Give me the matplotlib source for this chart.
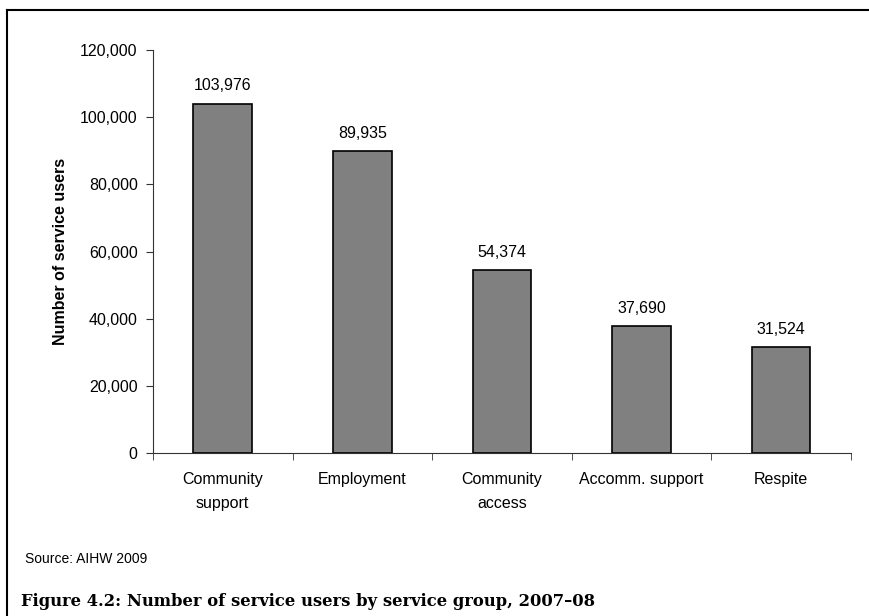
import numpy as np
import matplotlib
matplotlib.use('Agg')
import matplotlib.pyplot as plt
from matplotlib.lines import Line2D

# data
groups = ['Community\nsupport', 'Employment', 'Community\naccess',
          'Accomm. support', 'Respite']
users = [103976, 89935, 54374, 37690, 31524]
yticks = [0, 20000, 40000, 60000, 80000, 100000, 120000]

plt.rcParams['font.family'] = ['Liberation Sans', 'DejaVu Sans']
FS = 11.5

fig = plt.figure(figsize=(8.69, 6.16), dpi=100)
ax = fig.add_axes([0.176, 0.2646, 0.803, 0.6542])

x = np.arange(len(users))
ax.bar(x, users, width=0.42, color='#808080', edgecolor='black', lw=1.2)
for xi, v in zip(x, users):
    ax.annotate(f'{v:,}', (xi, v), xytext=(0, 7.5), textcoords='offset points',
                ha='center', va='bottom', fontsize=FS)

ax.set_xlim(-0.5, len(users) - 0.5)
ax.set_ylim(0, 120000)
ax.set_yticks(yticks)
ax.set_yticklabels([f'{t:,}' for t in yticks], fontsize=FS)
ax.set_xticks(x)
ax.set_xticklabels(groups, fontsize=FS, linespacing=1.75)
ax.tick_params(axis='x', length=0, pad=14)
ax.set_xticks(np.arange(len(users) + 1) - 0.5, minor=True)
ax.tick_params(axis='x', which='minor', length=5, direction='out', color='#333333')
ax.tick_params(axis='y', length=5, direction='out', color='#333333', pad=6)

for s in ['top', 'right']:
    ax.spines[s].set_visible(False)
ax.spines['left'].set_color('#333333')
ax.spines['bottom'].set_color('#333333')

ax.set_ylabel('Number of service users', fontsize=FS, fontweight='bold', labelpad=9)

# partial frame around the figure
fig.add_artist(Line2D([7 / 869, 7 / 869], [0, 1 - 10 / 616], color='black', lw=1.5,
                      transform=fig.transFigure))
fig.add_artist(Line2D([7 / 869, 1], [1 - 10 / 616, 1 - 10 / 616], color='black', lw=1.5,
                      transform=fig.transFigure))

fig.text(25 / 869, 1 - 559 / 616, 'Source: AIHW 2009', fontsize=10, va='center')
fig.text(21 / 869, 1 - 601 / 616,
         'Figure 4.2: Number of service users by service group, 2007\u201308',
         fontsize=11.8, fontweight='bold', family=['DejaVu Serif'],
         va='center')

fig.savefig('out.png', dpi=100)
